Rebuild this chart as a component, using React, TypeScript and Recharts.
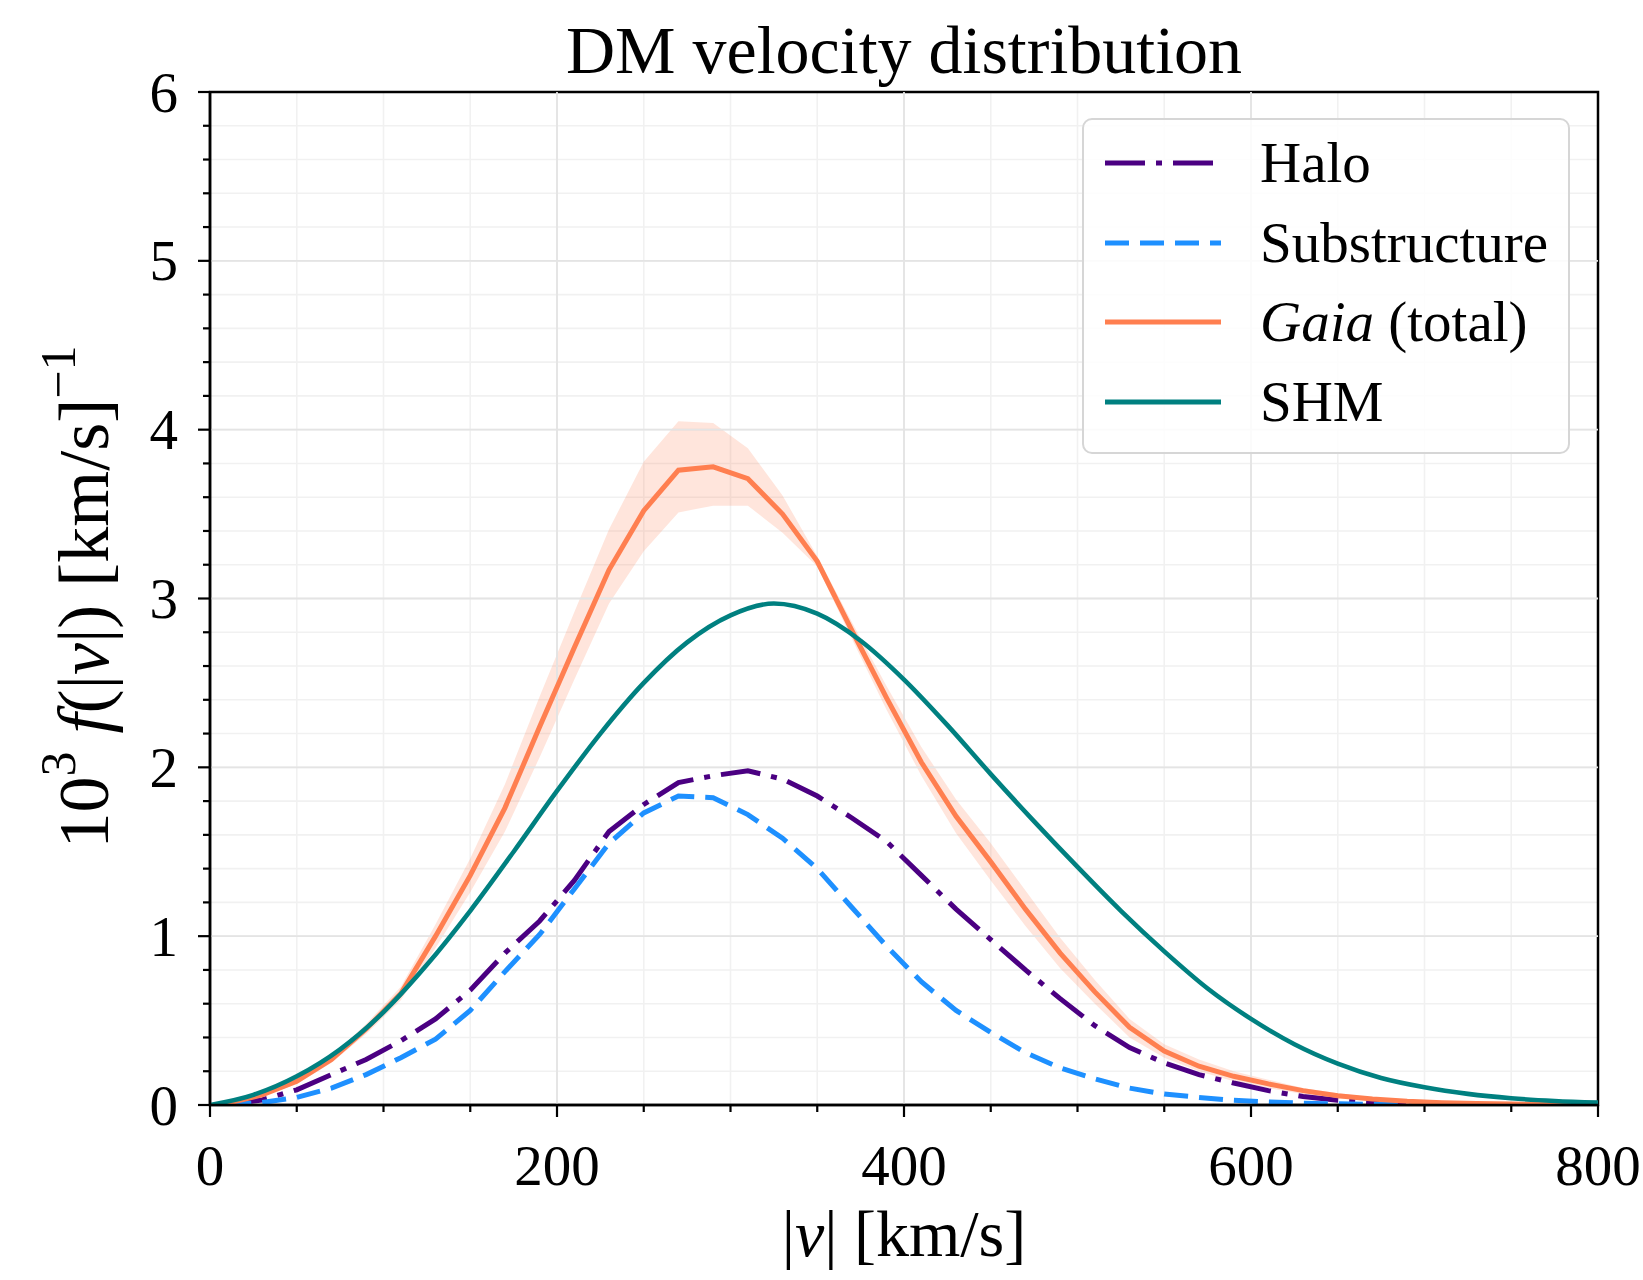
import React from 'react';
import {
  ComposedChart,
  Line,
  Area,
  XAxis,
  YAxis,
  CartesianGrid,
  ReferenceLine,
  ReferenceArea,
  Legend
} from 'recharts';

// speeds (km/s) where the Gaia / halo / substructure curves are sampled
const gaiaSpeeds = [
  10, 30, 50, 70, 90, 110, 130, 150, 170, 190, 210, 230, 250, 270, 290, 310, 330, 350, 370, 390,
  410, 430, 450, 470, 490, 510, 530, 550, 570, 590, 610, 630, 650, 670, 690, 710, 730, 750, 770, 790
];

const haloValues = [
  0.005, 0.03, 0.09, 0.18, 0.27, 0.38, 0.51, 0.68, 0.9, 1.09, 1.33, 1.62, 1.78, 1.91, 1.95, 1.98, 1.93, 1.83, 1.7, 1.56,
  1.36, 1.16, 0.98, 0.8, 0.63, 0.47, 0.34, 0.25, 0.18, 0.13, 0.085, 0.05, 0.028, 0.015, 0.008, 0.004, 0.002, 0.001, 0.0005, 0
];

const substructureValues = [
  0.002, 0.015, 0.045, 0.1, 0.18, 0.28, 0.39, 0.56, 0.79, 1.01, 1.28, 1.55, 1.73, 1.83, 1.82, 1.72, 1.58, 1.4, 1.17, 0.94,
  0.73, 0.56, 0.43, 0.31, 0.22, 0.155, 0.1, 0.065, 0.045, 0.028, 0.018, 0.011, 0.007, 0.004, 0.002, 0.001, 0.0005, 0, 0, 0
];

const gaiaValues = [
  0.01, 0.06, 0.14, 0.27, 0.45, 0.66, 1.0, 1.36, 1.76, 2.24, 2.71, 3.17, 3.52, 3.76, 3.78, 3.71, 3.5, 3.22, 2.81, 2.41,
  2.03, 1.71, 1.44, 1.16, 0.9, 0.67, 0.46, 0.32, 0.23, 0.17, 0.125, 0.085, 0.055, 0.035, 0.022, 0.014, 0.009, 0.006, 0.004, 0.003
];

const gaiaLower = [
  0.005, 0.05, 0.125, 0.25, 0.42, 0.62, 0.93, 1.26, 1.62, 2.06, 2.52, 2.97, 3.28, 3.51, 3.55, 3.55, 3.39, 3.19, 2.76, 2.34,
  1.95, 1.61, 1.33, 1.06, 0.81, 0.6, 0.4, 0.28, 0.2, 0.14, 0.1, 0.065, 0.04, 0.025, 0.015, 0.009, 0.006, 0.004, 0.002, 0.001
];

const gaiaUpper = [
  0.015, 0.07, 0.155, 0.29, 0.48, 0.7, 1.07, 1.46, 1.9, 2.42, 2.92, 3.41, 3.81, 4.05, 4.04, 3.89, 3.61, 3.25, 2.86, 2.48,
  2.12, 1.81, 1.55, 1.27, 0.99, 0.74, 0.51, 0.36, 0.27, 0.2, 0.15, 0.1, 0.07, 0.045, 0.03, 0.02, 0.013, 0.009, 0.006, 0.004
];

const shmSpeeds = [
  0, 25, 50, 75, 100, 125, 150, 175, 200, 225, 250, 275, 300, 325, 350, 375, 400,
  425, 450, 475, 500, 525, 550, 575, 600, 625, 650, 675, 700, 725, 750, 775, 800
];

const shmValues = [
  0, 0.06, 0.17, 0.33, 0.55, 0.83, 1.15, 1.5, 1.86, 2.2, 2.5, 2.74, 2.9, 2.97, 2.91, 2.75, 2.52,
  2.25, 1.96, 1.68, 1.41, 1.15, 0.91, 0.69, 0.51, 0.36, 0.245, 0.16, 0.105, 0.066, 0.04, 0.024, 0.014
];

const xTicks = [0, 50, 100, 150, 200, 250, 300, 350, 400, 450, 500, 550, 600, 650, 700, 750, 800];
const xLabels = [0, 200, 400, 600, 800];
const yTicks = [
  0, 0.2, 0.4, 0.6, 0.8, 1, 1.2, 1.4, 1.6, 1.8, 2, 2.2, 2.4, 2.6, 2.8, 3, 3.2, 3.4, 3.6, 3.8,
  4, 4.2, 4.4, 4.6, 4.8, 5, 5.2, 5.4, 5.6, 5.8, 6
];
const yLabels = [0, 1, 2, 3, 4, 5, 6];

const FONT = '"Liberation Serif", "DejaVu Serif", serif';

const series = [
  { key: 'halo', name: 'Halo', color: '#4B0082', dash: '40 11 6 11' },
  { key: 'sub', name: 'Substructure', color: '#1E90FF', dash: '24 11' },
  { key: 'gaia', name: 'Gaia', color: '#FF7F50', dash: undefined },
  { key: 'shm', name: 'SHM', color: '#008080', dash: undefined }
];

const speeds = Array.from(new Set([...gaiaSpeeds, ...shmSpeeds])).sort((a, b) => a - b);
const rows = speeds.map(v => {
  const gi = gaiaSpeeds.indexOf(v);
  const si = shmSpeeds.indexOf(v);
  return {
    v,
    halo: gi >= 0 ? haloValues[gi] : null,
    sub: gi >= 0 ? substructureValues[gi] : null,
    gaia: gi >= 0 ? gaiaValues[gi] : null,
    band: gi >= 0 ? [gaiaLower[gi], gaiaUpper[gi]] : null,
    shm: si >= 0 ? shmValues[si] : null
  };
});

const XTick = (props: any) => {
  const { x, y, payload } = props;
  const major = xLabels.includes(payload.value);
  return (
    <g>
      <line x1={x} x2={x} y1={y} y2={y + (major ? 12 : 7)} stroke="#000" strokeWidth={2.2} />
      {major && (
        <text x={x} y={y + 60} textAnchor="middle" dominantBaseline="central"
          fontFamily={FONT} fontSize={57} fill="#000">
          {payload.value}
        </text>
      )}
    </g>
  );
};

const YTick = (props: any) => {
  const { x, y, payload } = props;
  const major = yLabels.some(l => Math.abs(l - payload.value) < 1e-6);
  return (
    <g>
      <line x1={x} x2={x - (major ? 12 : 7)} y1={y} y2={y} stroke="#000" strokeWidth={2.2} />
      {major && (
        <text x={x - 32} y={y} textAnchor="end" dominantBaseline="central"
          fontFamily={FONT} fontSize={57} fill="#000">
          {Math.round(payload.value)}
        </text>
      )}
    </g>
  );
};

const LegendBox = () => (
  <div style={{
    position: 'relative',
    width: 488,
    height: 336,
    boxSizing: 'border-box',
    border: '2px solid #d6d6d6',
    borderRadius: 10,
    background: 'rgba(255,255,255,0.85)'
  }}>
    {series.map((s, i) => {
      const cy = 43 + i * 79.5;
      return (
        <React.Fragment key={s.key}>
          <svg style={{ position: 'absolute', left: 19, top: cy - 10 }} width={120} height={20}>
            <line x1={2} x2={118} y1={10} y2={10} stroke={s.color} strokeWidth={5}
              strokeDasharray={s.dash} />
          </svg>
          <div style={{
            position: 'absolute',
            left: 176,
            top: cy - 34,
            height: 68,
            lineHeight: '68px',
            fontFamily: FONT,
            fontSize: 57,
            color: '#000',
            whiteSpace: 'nowrap'
          }}>
            {s.key === 'gaia' ? (<><i>Gaia</i>&nbsp;(total)</>) : s.name}
          </div>
        </React.Fragment>
      );
    })}
  </div>
);

export default function App() {
  return (
    <div style={{ position: 'absolute', left: 0, top: 0, width: 1643, height: 1280, background: '#fff' }}>
      <ComposedChart
        width={1643}
        height={1280}
        data={rows}
        margin={{ top: 92, right: 45, bottom: 75, left: 100 }}
      >
        <CartesianGrid stroke="#f1f1f1" strokeWidth={1.6} />
        {xLabels.slice(1, -1).map(v => (
          <ReferenceLine key={'gx' + v} x={v} stroke="#e4e4e4" strokeWidth={1.8} />
        ))}
        {yLabels.slice(1, -1).map(v => (
          <ReferenceLine key={'gy' + v} y={v} stroke="#e4e4e4" strokeWidth={1.8} />
        ))}
        <XAxis
          dataKey="v"
          type="number"
          domain={[0, 800]}
          ticks={xTicks}
          interval={0}
          height={100}
          tickSize={0}
          tickMargin={0}
          tickLine={false}
          axisLine={{ stroke: '#000', strokeWidth: 2.5 }}
          tick={<XTick />}
          allowDataOverflow
        />
        <YAxis
          type="number"
          domain={[0, 6]}
          ticks={yTicks}
          interval={0}
          width={110}
          tickSize={0}
          tickMargin={0}
          tickLine={false}
          axisLine={{ stroke: '#000', strokeWidth: 2.5 }}
          tick={<YTick />}
          allowDataOverflow
        />
        <Area
          type="linear"
          dataKey="band"
          stroke="none"
          fill="#FF7F50"
          fillOpacity={0.2}
          connectNulls
          isAnimationActive={false}
          legendType="none"
        />
        <Line type="linear" dataKey="halo" stroke="#4B0082" strokeWidth={5} strokeDasharray="40 11 6 11"
          dot={false} activeDot={false} connectNulls isAnimationActive={false} />
        <Line type="linear" dataKey="sub" stroke="#1E90FF" strokeWidth={5} strokeDasharray="24 11"
          dot={false} activeDot={false} connectNulls isAnimationActive={false} />
        <Line type="linear" dataKey="gaia" stroke="#FF7F50" strokeWidth={5}
          dot={false} activeDot={false} connectNulls isAnimationActive={false} />
        <Line type="monotone" dataKey="shm" stroke="#008080" strokeWidth={4.6}
          dot={false} activeDot={false} connectNulls isAnimationActive={false} />
        <ReferenceArea x1={0} x2={800} y1={0} y2={6} fill="none" stroke="#000" strokeWidth={2.5}
          ifOverflow="visible" />
        <Legend
          layout="horizontal"
          verticalAlign="middle"
          align="center"
          content={() => <LegendBox />}
          wrapperStyle={{ left: 1082, top: 118, width: 488, height: 336 }}
        />
      </ComposedChart>
      <svg width={1643} height={1280} style={{ position: 'absolute', left: 0, top: 0, pointerEvents: 'none' }}>
        <text x={904} y={50} textAnchor="middle" dominantBaseline="central" fontFamily={FONT} fontSize={68} fill="#000">
          DM velocity distribution
        </text>
        <text x={904} y={1256} textAnchor="middle" fontFamily={FONT} fontSize={66} fill="#000">
          |<tspan fontStyle="italic">v</tspan>| [km/s]
        </text>
        <text transform="translate(84,597) rotate(-90)" textAnchor="middle" dominantBaseline="central"
          fontFamily={FONT} fontSize={72} fill="#000">
          10<tspan dy={-26} fontSize={50}>3</tspan>
          <tspan dy={26}> </tspan>
          <tspan fontStyle="italic">f</tspan>(|<tspan fontStyle="italic">v</tspan>|) [km/s]
          <tspan dy={-26} fontSize={50}>−1</tspan>
        </text>
      </svg>
    </div>
  );
}
